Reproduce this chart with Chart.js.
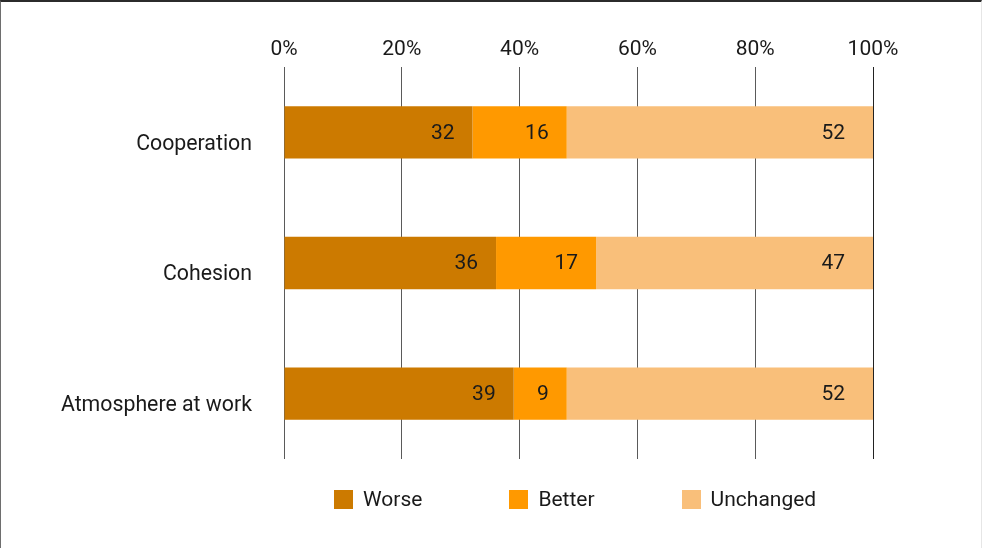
<!DOCTYPE html>
<html>
<head>
<meta charset="utf-8">
<script src="https://cdn.jsdelivr.net/npm/chart.js@4.4.1/dist/chart.umd.min.js"></script>
<style>
  body { margin: 0; background: #fff; }
  #wrap { position: relative; width: 982px; height: 548px; }
  #frame {
    position: absolute; left: 0; top: 0; width: 982px; height: 548px;
    box-sizing: border-box;
    border-top: 2px solid #2b2b2b;
    border-left: 1px solid #6e6e6e;
    border-right: 1px solid #e6e6e6;
    pointer-events: none;
  }
  #legend {
    position: absolute; left: 334px; top: 487px;
    display: flex; gap: 87px;
    font-family: Roboto, sans-serif; font-size: 21px; line-height: 25px; color: #1a1a1a;
  }
  #legend .item { display: flex; align-items: center; }
  #legend .box { width: 19px; height: 19px; margin-right: 10px; }
</style>
</head>
<body>
<div id="wrap">
  <canvas id="chart_bar" width="982" height="548"></canvas>
  <div id="legend"></div>
  <div id="frame"></div>
</div>
<script>
const canvasChartBar = document.getElementById('chart_bar');

/* DATA */
const CATEGORIES = [
    'Cooperation',
    'Cohesion',
    'Atmosphere at work'
];

const SERIES = ['Worse', 'Better', 'Unchanged'];

var worse_data = [32, 36, 39];
var better_data = [16, 17, 9];
var unchanged_data = [52, 47, 52];

const X_TICKS = [0, 20, 40, 60, 80, 100];

const TEXT_COLOR = '#1a1a1a';
const FONT = { family: 'Roboto, sans-serif', size: 21 };

/* DATA STRUCTURE */
const GET_DATASET = (label, data, color, labelOffset) => {
    return {
        label: label,
        data: data,
        backgroundColor: color,
        borderWidth: 0,
        barPercentage: 0.4,
        categoryPercentage: 1,
        labelOffset: labelOffset
    };
};

/* value labels at the inner end of every segment */
const valueLabels = {
    id: 'valueLabels',
    afterDatasetsDraw(chart) {
        const ctx = chart.ctx;
        ctx.save();
        ctx.font = FONT.size + 'px ' + FONT.family;
        ctx.fillStyle = TEXT_COLOR;
        ctx.textAlign = 'right';
        ctx.textBaseline = 'middle';
        chart.data.datasets.forEach((ds, i) => {
            chart.getDatasetMeta(i).data.forEach((bar, j) => {
                ctx.fillText(String(ds.data[j]), bar.x - ds.labelOffset, bar.y + 1);
            });
        });
        ctx.restore();
    }
};

/* Bar Chart */
var chartBar = new Chart(canvasChartBar, {
    type: 'bar',
    data: {
        labels: CATEGORIES,
        datasets: [
            GET_DATASET(SERIES[0], worse_data, '#cc7a00', 18),
            GET_DATASET(SERIES[1], better_data, '#ff9900', 18),
            GET_DATASET(SERIES[2], unchanged_data, '#f9bf7a', 28)
        ]
    },
    options: {
        indexAxis: 'y',
        responsive: false,
        animation: false,
        layout: { padding: { left: 0, right: 109, top: 0, bottom: 89 } },
        plugins: {
            legend: { display: false },
            tooltip: { enabled: false }
        },
        scales: {
            x: {
                position: 'top',
                stacked: true,
                min: 0,
                max: 100,
                afterFit: (scale) => { scale.height = 67; },
                afterBuildTicks: (scale) => {
                    scale.ticks = X_TICKS.map(v => ({ value: v }));
                },
                grid: {
                    drawTicks: false,
                    color: (c) => c.tick && c.tick.value === 100 ? '#222' : '#5a5a5a',
                    lineWidth: 1
                },
                border: { display: false },
                ticks: {
                    padding: 5,
                    color: TEXT_COLOR,
                    font: FONT,
                    callback: (v) => v + '%'
                }
            },
            y: {
                stacked: true,
                afterFit: (scale) => { scale.width = 284; },
                grid: { display: false, drawTicks: false },
                border: { display: false },
                ticks: {
                    padding: 32,
                    labelOffset: 12,
                    color: TEXT_COLOR,
                    font: { family: FONT.family, size: 21.3 }
                }
            }
        }
    },
    plugins: [valueLabels]
});

/* LEGEND */
const legendBox = document.getElementById('legend');
Chart.defaults.plugins.legend.labels.generateLabels(chartBar).forEach(function(item) {
    const el = document.createElement('div');
    el.className = 'item';
    const box = document.createElement('span');
    box.className = 'box';
    box.style.background = item.fillStyle;
    const txt = document.createElement('span');
    txt.textContent = item.text;
    el.appendChild(box);
    el.appendChild(txt);
    legendBox.appendChild(el);
});
</script>
</body>
</html>
